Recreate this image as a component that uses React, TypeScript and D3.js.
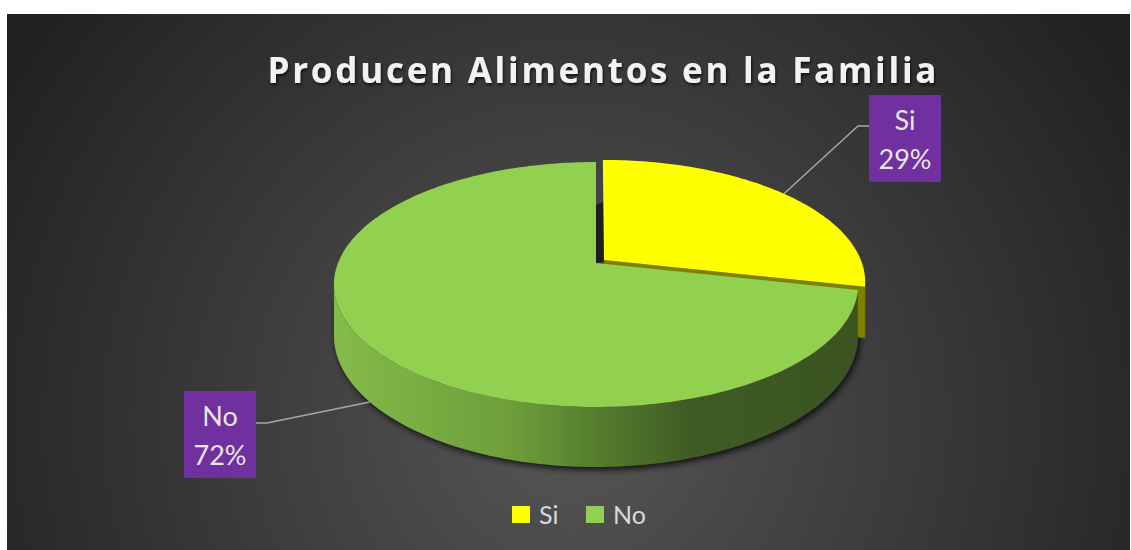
import React from 'react';
import * as d3 from 'd3';

const categories: string[] = ['Si', 'No'];
const values: number[] = [28.5, 71.5];
const colors: string[] = ['#FFFF00', '#92D050'];
const title = 'Producen Alimentos en la Familia';

const W = 1131;
const H = 550;

// perspective-ish projection of the pie plane
const CX = 596, CY = 263, A = 118.7, B = 0.1755, C = 258, T = 49.5;
function proj(X: number, Z: number, h: number): [number, number] {
  const k = 1 / (1 - B * Z);
  return [CX + C * X * k, CY + (A * Z + h) * k];
}
function pt(phi: number, r: number, ox: number, oz: number, h: number) {
  return proj(ox + r * Math.sin(phi), oz - r * Math.cos(phi), h);
}
function arcPts(a0: number, a1: number, ox: number, oz: number, h: number) {
  const n = Math.max(4, Math.ceil(Math.abs(a1 - a0) / 0.02));
  const out: [number, number][] = [];
  for (let i = 0; i <= n; i++) out.push(pt(a0 + ((a1 - a0) * i) / n, 1, ox, oz, h));
  return out;
}
const line = d3.line();

export default function App() {
  const pie = d3.pie<number>().sort(null).value((d) => d);
  const arcs = pie(values);
  const phiR = Math.acos(-B);
  const phiL = 2 * Math.PI - phiR;
  const explode = [0.04, 0];

  const slices = arcs.map((a, i) => {
    const mid = (a.startAngle + a.endAngle) / 2;
    const ox = explode[i] * Math.sin(mid);
    const oz = -explode[i] * Math.cos(mid);
    const c0 = proj(ox, oz, 0);
    const top = line([c0, ...arcPts(a.startAngle, a.endAngle, ox, oz, 0)])! + 'Z';
    let wall: string | null = null;
    const w0 = Math.max(a.startAngle, phiR);
    const w1 = Math.min(a.endAngle, phiL);
    if (w1 > w0) {
      const tp = arcPts(w0, w1, ox, oz, 0);
      const bt = arcPts(w1, w0, ox, oz, T);
      wall = line([...tp, ...bt])! + 'Z';
    }
    const c1 = proj(ox, oz, T);
    const rEndTop = pt(a.endAngle, 1, ox, oz, 0);
    const rEndBot = pt(a.endAngle, 1, ox, oz, T);
    const radial = line([c0, rEndTop, rEndBot, c1])! + 'Z';
    return { a, i, mid, ox, oz, c0, top, wall, radial };
  });

  const si = slices[0];
  const no = slices[1];
  const gCenter = proj(0, 0, 0);
  const yRimBot = pt(si.a.startAngle, 1, si.ox, si.oz, T);
  const darkQuad = line([
    [gCenter[0], yRimBot[1] + 3],
    [si.c0[0], yRimBot[1]],
    [si.c0[0], si.c0[1] + 2],
    [gCenter[0], gCenter[1]],
  ])! + 'Z';

  // shadow under the visible side wall
  const shadowPath =
    line([...arcPts(phiR, phiL, 0, 0, 0), ...arcPts(phiL, phiR, 0, 0, T)])! + 'Z';

  const siEnd = pt(si.mid, 1, si.ox, si.oz, 0);
  const noEnd = pt(no.mid, 1, no.ox, no.oz, T);

  const labelFont = 'Lato, "Open Sans", sans-serif';
  const pct = (v: number) => `${Math.round(v)}%`;

  const labels = [
    { box: [869, 95, 72, 87], elbow: [858, 126], anchor: [869, 126], end: siEnd },
    { box: [184, 391, 72, 87], elbow: [267, 423], anchor: [256, 423], end: noEnd },
  ];

  const legendItems = [
    { x: 512, tx: 539 },
    { x: 586, tx: 613 },
  ];

  return (
    <svg width={W} height={H} style={{ position: 'absolute', left: 0, top: 0 }}>
      <defs>
        <radialGradient id="bg" gradientUnits="userSpaceOnUse" cx={570} cy={420} r={650}>
          <stop offset="0" stopColor="#565656" />
          <stop offset="1" stopColor="#222222" />
        </radialGradient>
        <linearGradient id="greenWall" gradientUnits="userSpaceOnUse" x1={334} y1={0} x2={858} y2={0}>
          <stop offset="0" stopColor="#84BC4A" />
          <stop offset="0.33" stopColor="#6E9F3B" />
          <stop offset="0.52" stopColor="#537A2C" />
          <stop offset="0.68" stopColor="#3F5B24" />
          <stop offset="1" stopColor="#3B5421" />
        </linearGradient>
        <filter id="shadow" x="-10%" y="-20%" width="120%" height="140%">
          <feGaussianBlur stdDeviation="3" />
        </filter>
        <filter id="tshadow" x="-5%" y="-30%" width="110%" height="160%">
          <feDropShadow dx="1" dy="2" stdDeviation="1.5" floodColor="#000" floodOpacity="0.7" />
        </filter>
      </defs>
      <rect x={7} y={14} width={W - 8} height={H - 14} fill="url(#bg)" />

      <text
        x={602}
        y={83}
        textAnchor="middle"
        fontFamily='"Open Sans", Lato, sans-serif'
        fontWeight={700}
        fontSize={35}
        fill="#F2F2F2"
        textLength={669}
        lengthAdjust="spacing"
        filter="url(#tshadow)"
      >
        {title}
      </text>

      <path d={shadowPath} fill="#000" opacity={0.75} transform="translate(2,3)" filter="url(#shadow)" />

      <path d={darkQuad} fill="#1E1E1E" />
      {si.wall && <path d={si.wall} fill="#B3B300" />}
      <path d={si.radial} fill="#7F7F00" />
      <path d={si.top} fill={colors[0]} />

      {no.wall && <path d={no.wall} fill="url(#greenWall)" />}
      <path d={no.top} fill={colors[1]} />

      {labels.map((l, i) => (
        <g key={categories[i]}>
          <polyline
            points={[l.anchor, l.elbow, l.end].map((p) => p.join(',')).join(' ')}
            fill="none"
            stroke="#A6A6A6"
            strokeWidth={1.5}
          />
          <rect x={l.box[0]} y={l.box[1]} width={l.box[2]} height={l.box[3]} fill="#7030A0" />
          <text
            x={l.box[0] + l.box[2] / 2}
            y={l.box[1] + 35}
            textAnchor="middle"
            fontFamily={labelFont}
            fontSize={27}
            fill="#E6E6E6"
          >
            {categories[i]}
          </text>
          <text
            x={l.box[0] + l.box[2] / 2}
            y={l.box[1] + 74}
            textAnchor="middle"
            fontFamily={labelFont}
            fontSize={27}
            fill="#E6E6E6"
          >
            {pct(values[i])}
          </text>
        </g>
      ))}

      {legendItems.map((it, i) => (
        <g key={'lg' + i}>
          <rect x={it.x} y={506} width={18} height={17} fill={colors[i]} />
          <text x={it.tx} y={524} fontFamily={labelFont} fontSize={25} fill="#D9D9D9">
            {categories[i]}
          </text>
        </g>
      ))}
    </svg>
  );
}
